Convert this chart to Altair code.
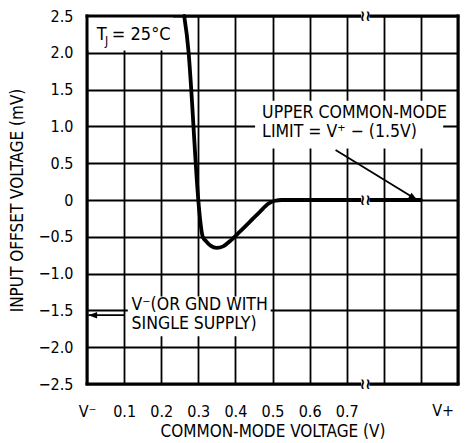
import math
import altair as alt
import pandas as pd

# ---------------- data ----------------
cm_voltage = [0.262, 0.274, 0.281, 0.287, 0.293, 0.300, 0.305, 0.312, 0.321, 0.333,
              0.350, 0.367, 0.385, 0.412, 0.440, 0.466, 0.489, 0.507, 0.525, 0.60,
              0.70, 0.80, 0.90]
offset_mv = [2.5, 2.0, 1.5, 1.0, 0.5, 0.0, -0.27, -0.50, -0.56, -0.62,
             -0.65, -0.63, -0.56, -0.43, -0.29, -0.16, -0.05, -0.01, 0.0, 0.0,
             0.0, 0.0, 0.0]

x_tick_values = [0.0, 0.1, 0.2, 0.3, 0.4, 0.5, 0.6, 0.7, 0.8, 0.9, 1.0]
x_tick_labels = ["V⁻", "0.1", "0.2", "0.3", "0.4", "0.5", "0.6", "0.7", "", "", ""]
y_tick_values = [-2.5, -2.0, -1.5, -1.0, -0.5, 0.0, 0.5, 1.0, 1.5, 2.0, 2.5]
y_tick_labels = ["−2.5", "−2.0", "−1.5", "−1.0", "−0.5", "0", "0.5", "1.0", "1.5", "2.0", "2.5"]

vplus_label = "V+"
vplus_pos = 0.96

break_x = 0.75
break_levels = [2.5, 0.0, -2.5]

notes = ["UPPER COMMON-MODE", "LIMIT = V⁺ − (1.5V)", "V⁻(OR GND WITH", "SINGLE SUPPLY)"]
notes_x = [0.472, 0.472, 0.12, 0.12]
notes_y = [1.176, 0.926, -1.43, -1.68]

# arrows: start (x, y) -> tip (x2, y2)
arrow_x = [0.67, 0.10]
arrow_y = [0.68, -1.565]
arrow_x2 = [0.89, 0.004]
arrow_y2 = [0.0, -1.565]

# white boxes behind annotations
box_x = [0.0, 0.453, 0.11]
box_x2 = [0.232, 0.96, 0.495]
box_y = [2.03, 0.70, -1.85]
box_y2 = [2.5, 1.35, -1.31]

# ---------------- layout ----------------
W, H = 371, 368
XDOM = [0.0, 1.0]
YDOM = [-2.5, 2.5]
FONT = "Liberation Sans Narrow, DejaVu Sans Condensed, sans-serif"

px_x = W / (XDOM[1] - XDOM[0])
px_y = H / (YDOM[1] - YDOM[0])

xs = alt.Scale(domain=XDOM, nice=False, zero=False)
ys = alt.Scale(domain=YDOM, nice=False, zero=False)


def lab_expr(vals, labs):
    pairs = ",".join("'%d':'%s'" % (round(v * 10), l) for v, l in zip(vals, labs))
    return "({%s})['' + round(datum.value * 10)]" % pairs


X_AXIS = alt.Axis(
    values=x_tick_values, labelExpr=lab_expr(x_tick_values, x_tick_labels),
    grid=True, gridColor="black", gridWidth=1.8, gridOpacity=1,
    ticks=False, domain=False, labelFont=FONT, labelFontSize=16,
    labelColor="black", labelPadding=19, labelFlush=False, labelOverlap=False,
    title="COMMON-MODE VOLTAGE (V)", titleFont=FONT, titleFontSize=17,
    titleFontWeight="normal", titleColor="black", titlePadding=4,
)
Y_AXIS = alt.Axis(
    values=y_tick_values, labelExpr=lab_expr(y_tick_values, y_tick_labels),
    grid=True, gridColor="black", gridWidth=1.8, gridOpacity=1,
    ticks=False, domain=False, labelFont=FONT, labelFontSize=16,
    labelColor="black", labelPadding=14, labelFlush=False, labelOverlap=False,
    title="INPUT OFFSET VOLTAGE (mV)", titleFont=FONT, titleFontSize=17,
    titleFontWeight="normal", titleColor="black", titlePadding=12,
)


def X(field):
    return alt.X(field, scale=xs, axis=X_AXIS)


def Y(field):
    return alt.Y(field, scale=ys, axis=Y_AXIS)


curve_df = pd.DataFrame({"x": cm_voltage, "y": offset_mv})
curve = alt.Chart(curve_df).mark_line(
    color="black", strokeWidth=3.8, interpolate="monotone", strokeCap="round"
).encode(x=X("x:Q"), y=Y("y:Q"))

box_df = pd.DataFrame({"x": box_x, "x2": box_x2, "y": box_y, "y2": box_y2})
boxes = alt.Chart(box_df).mark_rect(color="white").encode(
    x=X("x:Q"), x2="x2:Q", y=Y("y:Q"), y2="y2:Q"
)

border_v = pd.DataFrame({"x": [XDOM[0], XDOM[1]], "y": [YDOM[0]] * 2, "y2": [YDOM[1]] * 2})
border_h = pd.DataFrame({"y": [YDOM[0], YDOM[1]], "x": [XDOM[0]] * 2, "x2": [XDOM[1]] * 2})
bv = alt.Chart(border_v).mark_rule(color="black", strokeWidth=3, strokeCap="square").encode(
    x=X("x:Q"), y=Y("y:Q"), y2="y2:Q")
bh = alt.Chart(border_h).mark_rule(color="black", strokeWidth=3, strokeCap="square").encode(
    y=Y("y:Q"), x=X("x:Q"), x2="x2:Q")

brk_df = pd.DataFrame({"x": [break_x - 0.011] * 3, "x2": [break_x + 0.011] * 3,
                       "y": [l - 0.07 for l in break_levels], "y2": [l + 0.07 for l in break_levels],
                       "cx": [break_x] * 3, "cy": break_levels})
brk_gap = alt.Chart(brk_df).mark_rect(color="white").encode(
    x=X("x:Q"), x2="x2:Q", y=Y("y:Q"), y2="y2:Q")
brk_sym = alt.Chart(brk_df).mark_text(
    text="≀≀", font="DejaVu Sans", fontSize=15, fontWeight="bold", color="black",
    baseline="middle", align="center"
).encode(x=X("cx:Q"), y=Y("cy:Q"))

arr_df = pd.DataFrame({"x": arrow_x, "y": arrow_y, "x2": arrow_x2, "y2": arrow_y2})
arr_df["angle"] = [
    math.degrees(math.atan2((a - b) * px_y, (d - c) * px_x)) % 360
    for a, b, c, d in zip(arrow_y, arrow_y2, arrow_x, arrow_x2)
]
shafts = alt.Chart(arr_df).mark_rule(color="black", strokeWidth=1.8).encode(
    x=X("x:Q"), y=Y("y:Q"), x2="x2:Q", y2="y2:Q")
heads = alt.Chart(arr_df).mark_point(
    shape="M0,0L-1,-0.38L-1,0.38Z", filled=True, color="black", opacity=1, size=300
).encode(x=X("x2:Q"), y=Y("y2:Q"), angle=alt.Angle("angle:Q", scale=None))

notes_df = pd.DataFrame({"x": notes_x, "y": notes_y, "t": notes})
note_text = alt.Chart(notes_df).mark_text(
    font=FONT, fontSize=17.5, color="black", align="left", baseline="middle"
).encode(x=X("x:Q"), y=Y("y:Q"), text="t:N")

tj_df = pd.DataFrame({"x": [0.026, 0.0485, 0.067], "y": [2.243, 2.16, 2.243],
                      "t": ["T", "J", "= 25°C"], "s": [18, 12, 18]})
tj_text = alt.Chart(tj_df).mark_text(
    font=FONT, color="black", align="left", baseline="middle"
).encode(x=X("x:Q"), y=Y("y:Q"), text="t:N",
         size=alt.Size("s:Q", scale=None, legend=None))

vp_df = pd.DataFrame({"x": [vplus_pos], "y": [YDOM[0]], "t": [vplus_label]})
vp_text = alt.Chart(vp_df).mark_text(
    font=FONT, fontSize=16, color="black", align="center", baseline="top", dy=19
).encode(x=X("x:Q"), y=Y("y:Q"), text="t:N")

chart = alt.layer(
    curve, boxes, bv, bh, brk_gap, brk_sym, shafts, heads, note_text, tj_text, vp_text
).properties(
    width=W, height=H,
    autosize=alt.AutoSizeParams(type="none"),
    padding={"left": 79, "top": 8, "right": 2, "bottom": 59},
).configure_view(stroke=None).configure(background="white")

chart.save("out.html", embed_options={"renderer": "svg", "actions": False})
